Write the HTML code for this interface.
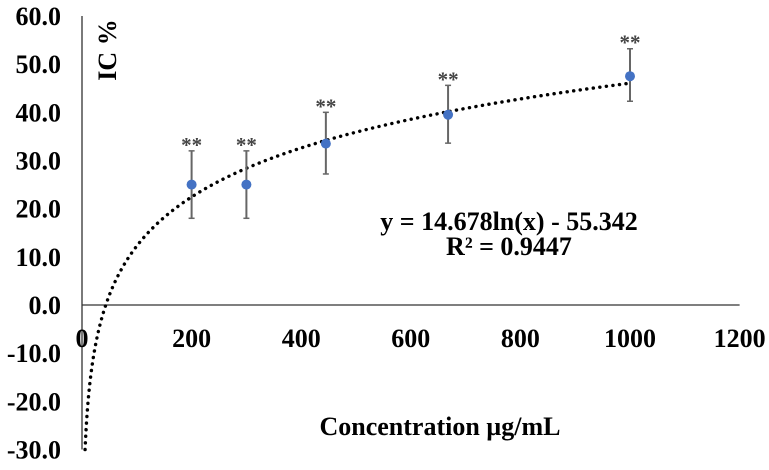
<!DOCTYPE html>
<html><head><meta charset="utf-8"><style>
html,body{margin:0;padding:0;background:#fff;}
svg text{font-family:"Liberation Serif",serif;font-weight:bold;}
</style></head><body>
<svg id="chart" width="769" height="465" viewBox="0 0 769 465" xmlns="http://www.w3.org/2000/svg">
<g id="axes"></g>
<g id="trend"></g>
<g id="points"></g>
<text x="509" y="230" font-size="26" text-anchor="middle" fill="#000">y = 14.678ln(x) - 55.342</text>
<text x="509" y="255" font-size="26" text-anchor="middle" fill="#000">R² = 0.9447</text>
<text x="440" y="435" font-size="26" text-anchor="middle" fill="#000">Concentration µg/mL</text>
<text transform="translate(116,50) rotate(-90)" font-size="26" text-anchor="middle" fill="#000">IC  %</text>
</svg>
<script>
const xTicks = [0,200,400,600,800,1000,1200];
const yTicks = [60,50,40,30,20,10,0,-10,-20,-30];
const concentrations = [200,300,445,668,1000];
const icValues = [25,25,33.5,39.5,47.5];
const errUpper = [32,32,40,45.6,53.2];
const errLower = [18,18,27.2,33.6,42.3];
const trendA = 14.678, trendB = -55.342;

const NS="http://www.w3.org/2000/svg";
const xs = v => 82 + v*0.548;
const ys = v => 305 - v*4.817;
function mk(tag, attrs, parent){const e=document.createElementNS(NS,tag);for(const k in attrs)e.setAttribute(k,attrs[k]);parent.appendChild(e);return e;}
const axes=document.getElementById('axes');
let l=mk('line',{x1:xs(0),y1:ys(60),x2:xs(0),y2:ys(-30),stroke:'#333','stroke-width':1.3},axes);


l=mk('line',{x1:xs(0),y1:ys(0),x2:xs(1200),y2:ys(0),stroke:'#333','stroke-width':1.3},axes);


yTicks.forEach(v=>{
  const t=mk('text',{x:61,y:ys(v)+9,'font-size':26,'text-anchor':'end',fill:'#000'},axes);
  t.textContent=v.toFixed(1);
  
  
});
xTicks.forEach(v=>{
  const t=mk('text',{x:xs(v),y:347,'font-size':26,'text-anchor':'middle',fill:'#000'},axes);
  t.textContent=v;
  
  
});
let d='';
const x0=Math.exp((-30-trendB)/trendA);
for(let i=0;i<=400;i++){
  const x=x0*Math.pow(1000/x0,i/400);
  const y=trendA*Math.log(x)+trendB;
  d+=(i?'L':'M')+xs(x).toFixed(2)+' '+ys(y).toFixed(2);
}
const p=mk('path',{d:d,fill:'none',stroke:'#000','stroke-width':3.4,'stroke-dasharray':'0.1 6.5','stroke-linecap':'round'},document.getElementById('trend'));


const pts=document.getElementById('points');
concentrations.forEach((c,i)=>{
  const x=xs(c);
  const e=mk('line',{x1:x,y1:ys(errUpper[i]),x2:x,y2:ys(errLower[i]),stroke:'#666','stroke-width':2},pts);
  
  
  [errUpper[i],errLower[i]].forEach(v=>{
    const c2=mk('line',{x1:x-3,y1:ys(v),x2:x+3,y2:ys(v),stroke:'#666','stroke-width':1.5},pts);
    
    
  });
  const dot=mk('circle',{cx:x,cy:ys(icValues[i]),r:5,fill:'#4472C4'},pts);
  
  
  const s=mk('text',{x:x,y:ys(errUpper[i])+1,'font-size':21,'text-anchor':'middle',fill:'#444'},pts);
  s.textContent='**';
  
  
});
</script>
</body></html>
